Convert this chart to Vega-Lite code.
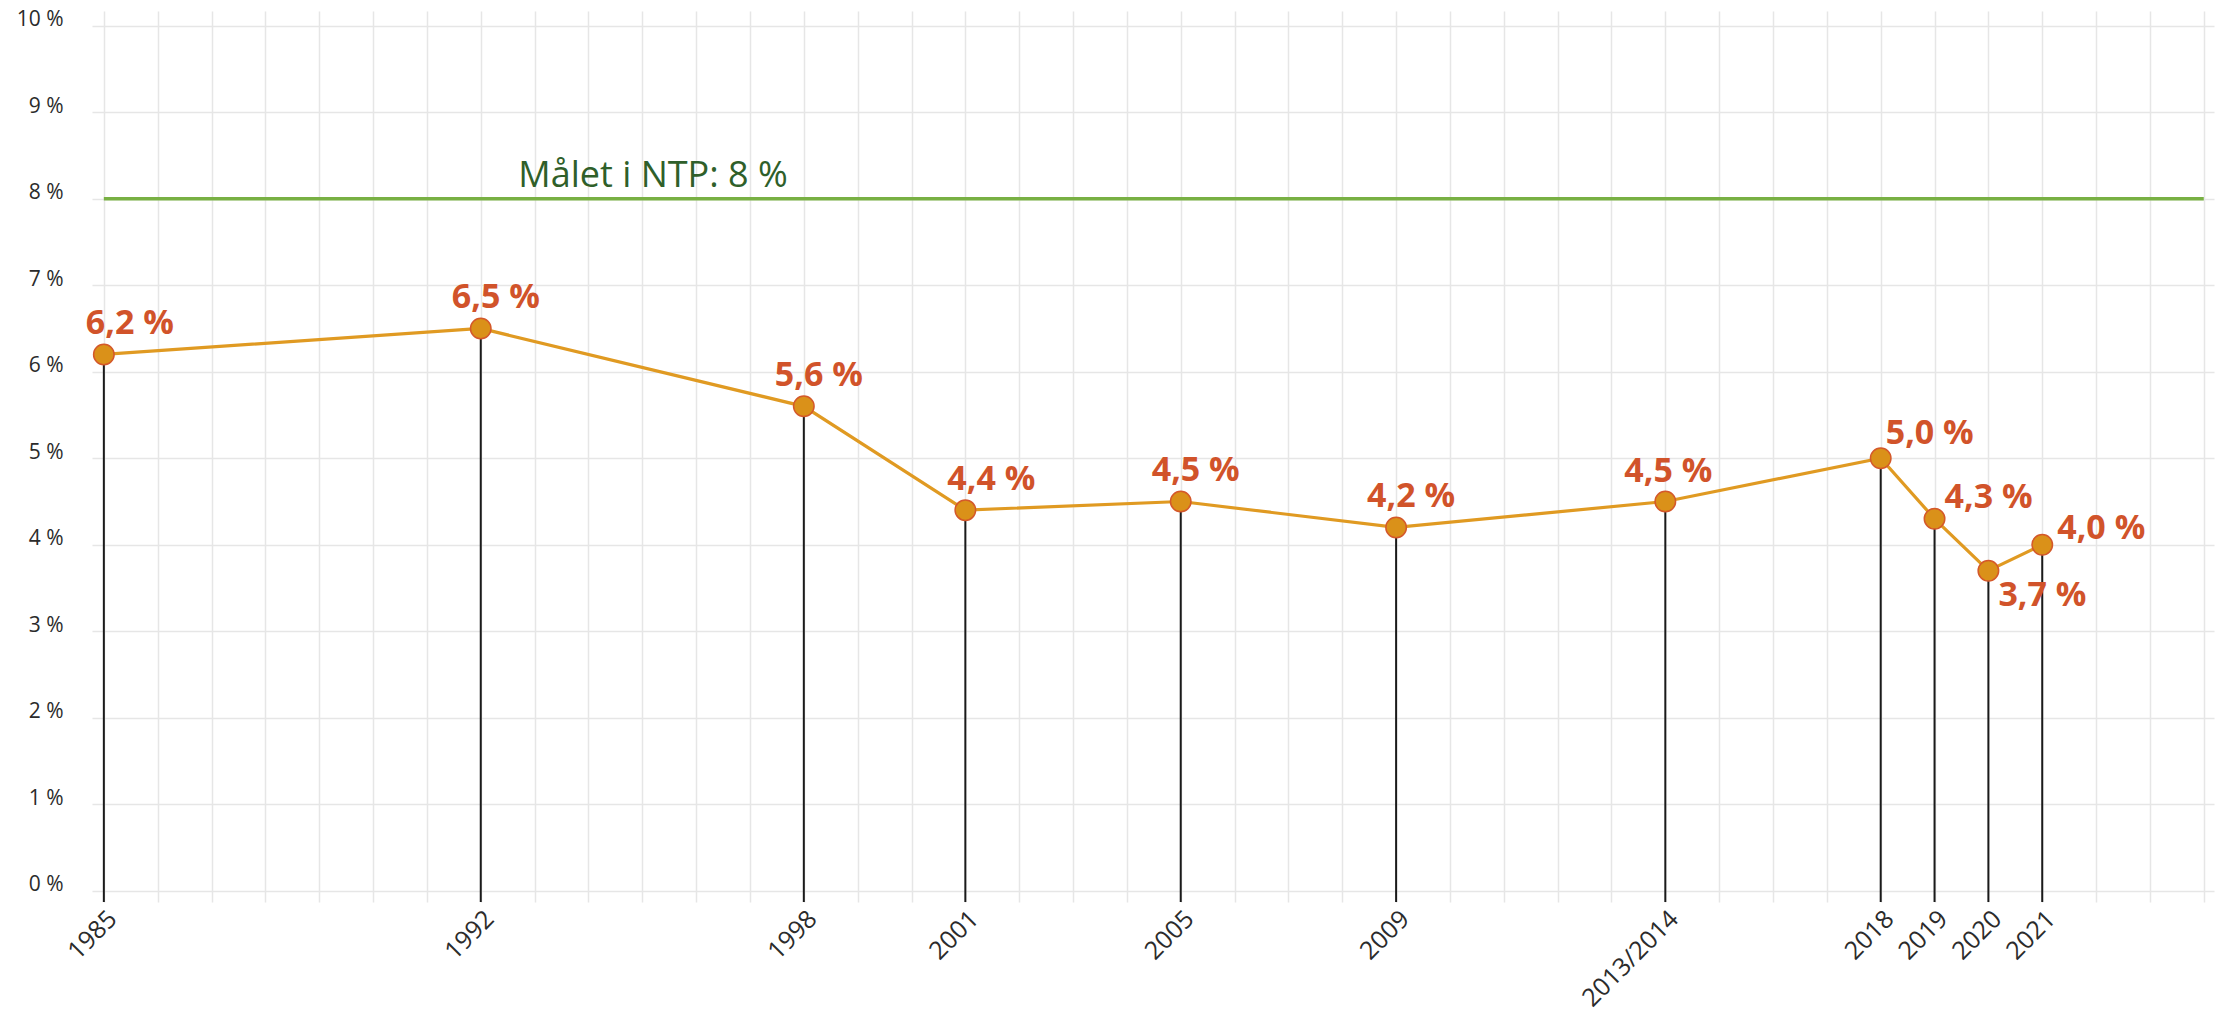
{
  "$schema": "https://vega.github.io/schema/vega-lite/v6.json",
  "width": 2122,
  "height": 891,
  "autosize": {"type": "none"},
  "padding": {"left": 92, "top": 11, "right": 7, "bottom": 110},
  "background": "white",
  "config": {
    "view": {"stroke": null},
    "font": "Open Sans",
    "text": {"color": "#d1532a", "fontSize": 34, "fontWeight": "bold", "baseline": "alphabetic"}
  },
  "datasets": {
    "share": [
      {"year": 1985, "share": 6.2, "label": "6,2 %"},
      {"year": 1992, "share": 6.5, "label": "6,5 %"},
      {"year": 1998, "share": 5.6, "label": "5,6 %"},
      {"year": 2001, "share": 4.4, "label": "4,4 %"},
      {"year": 2005, "share": 4.5, "label": "4,5 %"},
      {"year": 2009, "share": 4.2, "label": "4,2 %"},
      {"year": 2014, "share": 4.5, "label": "4,5 %"},
      {"year": 2018, "share": 5.0, "label": "5,0 %"},
      {"year": 2019, "share": 4.3, "label": "4,3 %"},
      {"year": 2020, "share": 3.7, "label": "3,7 %"},
      {"year": 2021, "share": 4.0, "label": "4,0 %"}
    ],
    "target": [
      {"goal": 8, "start": 1985, "end": 2024, "label": "Målet i NTP: 8 %"}
    ]
  },
  "layer": [
    {
      "data": {"name": "target"},
      "mark": {"type": "rule", "color": "#78b043", "strokeWidth": 3.5},
      "encoding": {
        "x": {
          "field": "start",
          "type": "quantitative",
          "scale": {"domain": [1984.78, 2024.19], "nice": false, "zero": false},
          "axis": {
            "title": null,
            "values": [1985,1986,1987,1988,1989,1990,1991,1992,1993,1994,1995,1996,1997,1998,1999,2000,2001,2002,2003,2004,2005,2006,2007,2008,2009,2010,2011,2012,2013,2014,2015,2016,2017,2018,2019,2020,2021,2022,2023,2024],
            "grid": true,
            "gridColor": "#e6e6e6",
            "gridWidth": 1.5,
            "domain": false,
            "ticks": false,
            "labelAngle": -45,
            "labelOverlap": false,
            "labelBound": false,
            "labelFlush": false,
            "labelFontSize": 25,
            "labelColor": "#2b2b2b",
            "labelPadding": 4,
            "labelExpr": "datum.value == 2014 ? '2013/2014' : (indexof([1985,1992,1998,2001,2005,2009,2018,2019,2020,2021], datum.value) >= 0 ? '' + datum.value : '')"
          }
        },
        "x2": {"field": "end"},
        "y": {
          "field": "goal",
          "type": "quantitative",
          "scale": {"domain": [-0.13, 10.17], "nice": false, "zero": false},
          "axis": {
            "title": null,
            "values": [0,1,2,3,4,5,6,7,8,9,10],
            "grid": true,
            "gridColor": "#e6e6e6",
            "gridWidth": 1.5,
            "domain": false,
            "ticks": false,
            "labelFontSize": 21,
            "labelColor": "#2b2b2b",
            "labelPadding": 29,
            "labelBaseline": "alphabetic",
            "labelExpr": "datum.value + ' %'"
          }
        }
      }
    },
    {
      "data": {"name": "target"},
      "mark": {"type": "text", "color": "#2f5f2a", "fontSize": 36, "fontWeight": "normal", "align": "center", "baseline": "alphabetic", "dy": -12},
      "encoding": {
        "x": {"datum": 1995.2, "type": "quantitative"},
        "y": {"field": "goal", "type": "quantitative"},
        "text": {"field": "label"}
      }
    },
    {
      "data": {"name": "share"},
      "mark": {"type": "rule", "color": "#1a1a1a", "strokeWidth": 2},
      "encoding": {
        "x": {"field": "year", "type": "quantitative"},
        "y": {"field": "share", "type": "quantitative"},
        "y2": {"datum": -0.13}
      }
    },
    {
      "data": {"name": "share"},
      "mark": {"type": "line", "color": "#e09a22", "strokeWidth": 3.2},
      "encoding": {
        "x": {"field": "year", "type": "quantitative"},
        "y": {"field": "share", "type": "quantitative"}
      }
    },
    {
      "data": {"name": "share"},
      "mark": {"type": "point", "filled": true, "size": 420, "fill": "#da9119", "stroke": "#d4582a", "strokeWidth": 1.5, "opacity": 1},
      "encoding": {
        "x": {"field": "year", "type": "quantitative"},
        "y": {"field": "share", "type": "quantitative"}
      }
    },
    {
      "data": {"name": "share"},
      "transform": [{"filter": {"field": "year", "oneOf": [1985, 2001]}}],
      "mark": {"type": "text", "align": "center", "dx": 26, "dy": -20},
      "encoding": {
        "x": {"field": "year", "type": "quantitative"},
        "y": {"field": "share", "type": "quantitative"},
        "text": {"field": "label"}
      }
    },
    {
      "data": {"name": "share"},
      "transform": [{"filter": {"field": "year", "oneOf": [1992, 1998, 2005, 2009]}}],
      "mark": {"type": "text", "align": "center", "dx": 15, "dy": -20},
      "encoding": {
        "x": {"field": "year", "type": "quantitative"},
        "y": {"field": "share", "type": "quantitative"},
        "text": {"field": "label"}
      }
    },
    {
      "data": {"name": "share"},
      "transform": [{"filter": {"field": "year", "oneOf": [2014]}}],
      "mark": {"type": "text", "align": "center", "dx": 3, "dy": -19},
      "encoding": {
        "x": {"field": "year", "type": "quantitative"},
        "y": {"field": "share", "type": "quantitative"},
        "text": {"field": "label"}
      }
    },
    {
      "data": {"name": "share"},
      "transform": [{"filter": {"field": "year", "oneOf": [2018]}}],
      "mark": {"type": "text", "align": "left", "dx": 5, "dy": -14},
      "encoding": {
        "x": {"field": "year", "type": "quantitative"},
        "y": {"field": "share", "type": "quantitative"},
        "text": {"field": "label"}
      }
    },
    {
      "data": {"name": "share"},
      "transform": [{"filter": {"field": "year", "oneOf": [2019]}}],
      "mark": {"type": "text", "align": "left", "dx": 10, "dy": -11},
      "encoding": {
        "x": {"field": "year", "type": "quantitative"},
        "y": {"field": "share", "type": "quantitative"},
        "text": {"field": "label"}
      }
    },
    {
      "data": {"name": "share"},
      "transform": [{"filter": {"field": "year", "oneOf": [2021]}}],
      "mark": {"type": "text", "align": "left", "dx": 15, "dy": -6},
      "encoding": {
        "x": {"field": "year", "type": "quantitative"},
        "y": {"field": "share", "type": "quantitative"},
        "text": {"field": "label"}
      }
    },
    {
      "data": {"name": "share"},
      "transform": [{"filter": {"field": "year", "oneOf": [2020]}}],
      "mark": {"type": "text", "align": "left", "dx": 10, "dy": 35},
      "encoding": {
        "x": {"field": "year", "type": "quantitative"},
        "y": {"field": "share", "type": "quantitative"},
        "text": {"field": "label"}
      }
    }
  ]
}
